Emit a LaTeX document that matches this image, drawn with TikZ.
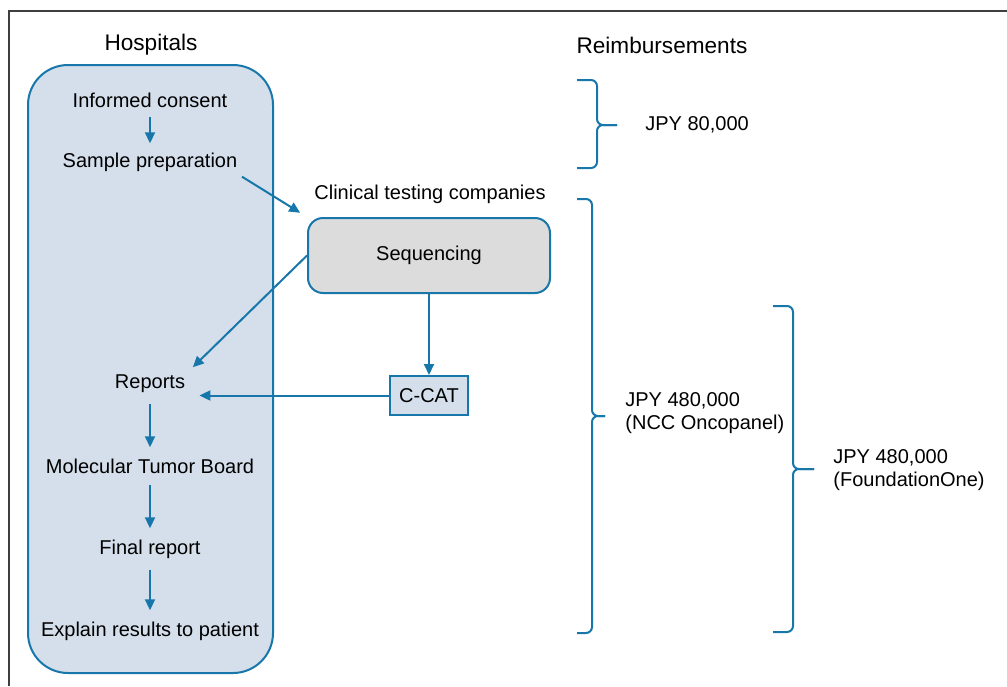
\documentclass[tikz,border=0pt]{standalone}
\usepackage{fontspec}
\setmainfont{Liberation Sans}
\usetikzlibrary{arrows.meta}

\definecolor{flowblue}{HTML}{1877AA}
\definecolor{hospfill}{HTML}{D4DFEB}
\definecolor{seqfill}{HTML}{DCDCDC}
\definecolor{framegray}{HTML}{3F3F3F}

\tikzset{
  steptext/.style={font=\fontsize{10}{12}\selectfont, inner sep=3pt},
  headtext/.style={font=\fontsize{11.3}{13.5}\selectfont, inner sep=0pt},
  pricetext/.style={font=\fontsize{10}{11.5}\selectfont, align=left, anchor=west, inner sep=0pt},
  flow/.style={draw=flowblue, line width=1pt, -{Triangle[length=5.5pt,width=5pt]}},
  paybrace/.style={draw=flowblue, line width=1pt, rounded corners=3pt},
}

\begin{document}
\begin{tikzpicture}[x=0.5pt, y=-0.5pt]
    \useasboundingbox (0,0) rectangle (1007,686);

    % Outer frame (top and left edge only)
    \draw[framegray, line width=1pt] (9,686) -- (9,11) -- (1007,11);

    % Hospital container at the left
    \node[draw=flowblue, fill=hospfill, line width=1pt, rounded corners=20pt,
          minimum width=122.5pt, minimum height=304pt] (hosp) at (150.5,369) {};
    \node[headtext] (hosptitle) at (151,45) {Hospitals};

    % Steps inside the hospital
    \node[steptext] (consent) at (150,100) {Informed consent};
    \node[steptext] (sample)  at (150,162) {Sample preparation};
    \node[steptext] (reports) at (150,384) {Reports};
    \node[steptext] (board)   at (150,466) {Molecular Tumor Board};
    \node[steptext] (final)   at (150,549) {Final report};
    \node[steptext] (explain) at (150,631) {Explain results to patient};

    % Clinical testing companies
    \node[steptext] (company) at (430,194) {Clinical testing companies};
    \node[steptext, draw=flowblue, fill=seqfill, line width=1pt, rounded corners=7.5pt,
          minimum width=121pt, minimum height=37.5pt] (seq) at (429,255.5) {Sequencing};
    \node[steptext, draw=flowblue, fill=hospfill, line width=1pt,
          minimum width=39pt, minimum height=19.5pt] (ccat) at (429,395.5) {C-CAT};

    % Flow arrows
    \draw[flow, shorten <=1.5pt, shorten >=1.5pt] (consent.south) -- (sample.north);
    \draw[flow, shorten <=-1pt, shorten >=4pt] (sample.south east) -- (seq.north west);
    \draw[flow, shorten >=1pt] (seq.west) -- (reports.north east);
    \draw[flow] (seq.south) -- (ccat.north);
    \draw[flow, shorten >=4pt] (ccat.west) -- (ccat.west -| reports.east);
    \draw[flow, shorten <=2.5pt, shorten >=2.5pt] (reports.south) -- (board.north);
    \draw[flow, shorten <=2.5pt, shorten >=2.5pt] (board.south) -- (final.north);
    \draw[flow, shorten <=2.5pt, shorten >=2.5pt] (final.south) -- (explain.north);

    % Reimbursements with braces
    \node[headtext] (paytitle) at (662,45) {Reimbursements};

    % Brace for JPY 80,000
    \coordinate (b1tip) at (617,125);
    \draw[paybrace] (577,80) -- (597,80) -- (597,125) -- (b1tip);
    \draw[paybrace] (577,168) -- (597,168) -- (597,125) -- (b1tip);
    \node[pricetext] (pay1) at (645,125) {JPY 80,000};

    % Brace for NCC Oncopanel
    \coordinate (b2tip) at (605,416);
    \draw[paybrace] (577,199) -- (592,199) -- (592,416) -- (b2tip);
    \draw[paybrace] (577,633) -- (592,633) -- (592,416) -- (b2tip);
    \node[pricetext] (pay2) at (625,413) {JPY 480,000\\(NCC Oncopanel)};

    % Brace for FoundationOne
    \coordinate (b3tip) at (814,469);
    \draw[paybrace] (773,306) -- (793,306) -- (793,469) -- (b3tip);
    \draw[paybrace] (773,632) -- (793,632) -- (793,469) -- (b3tip);
    \node[pricetext] (pay3) at (833,470) {JPY 480,000\\(FoundationOne)};
\end{tikzpicture}
\end{document}
